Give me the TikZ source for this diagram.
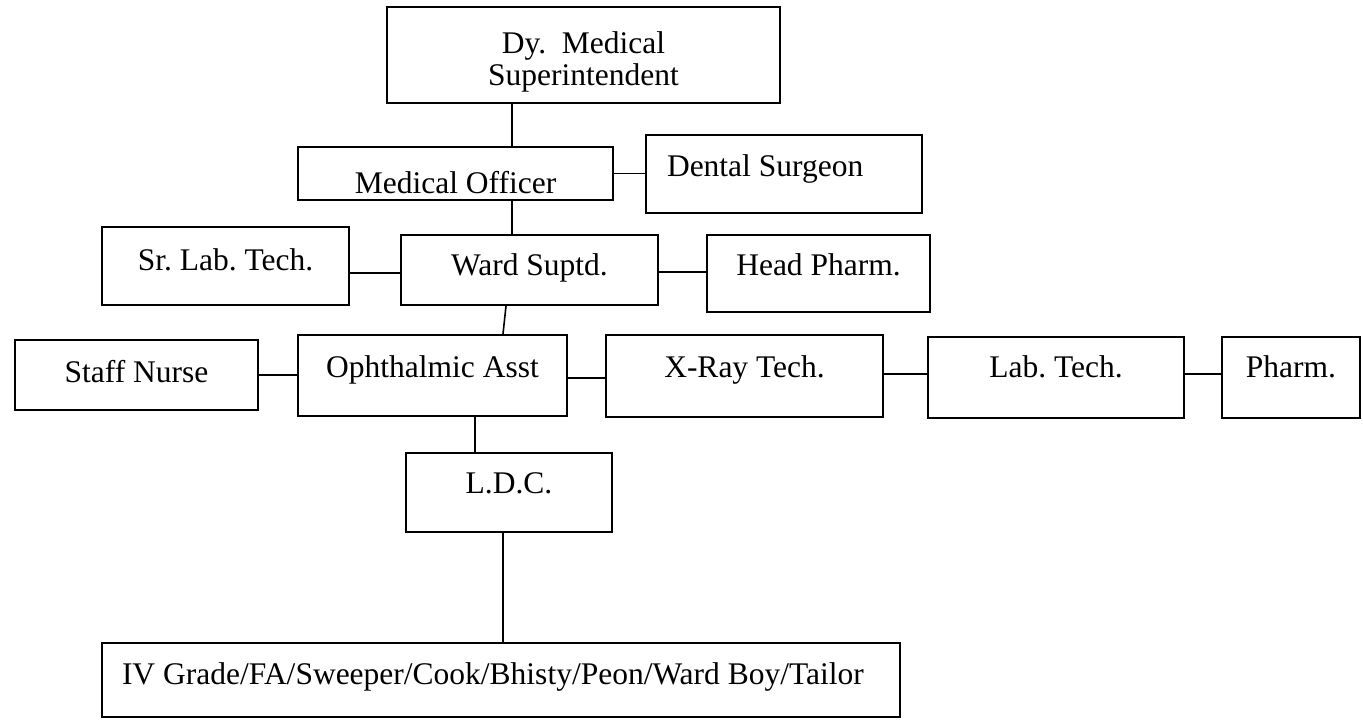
\documentclass[tikz,border=0pt]{standalone}
\usepackage{fontspec}
\setmainfont{Liberation Serif}
\begin{document}
\begin{tikzpicture}[x=1pt,y=-1pt,
    every node/.style={font=\fontsize{31.5pt}{32pt}\selectfont\frenchspacing},
    post/.style={draw,line width=2pt,inner sep=0pt},
    link/.style={line width=1.6pt}]
  \useasboundingbox (0,0) rectangle (1363,720);
  \node[post,minimum width=393pt,text height=78pt,text depth=18pt,align=center] (dms) at (583.5,55) {Dy.\ \ Medical\\Superintendent};
  \node[post,minimum width=315pt,text height=46pt,text depth=7pt] (mo) at (455.5,173.5) {Medical Officer};
  \node[post,inner xsep=21pt,text width=234pt,align=flush left,text height=41pt,text depth=37pt] (ds) at (784,174) {Dental Surgeon};
  \node[post,minimum width=247pt,text height=43pt,text depth=35pt] (slt) at (225.5,266) {Sr. Lab. Tech.};
  \node[post,minimum width=257pt,text height=40pt,text depth=30pt] (ws) at (529.5,270) {Ward Suptd.};
  \node[post,minimum width=223pt,text height=40pt,text depth=37pt] (hp) at (818.5,273.5) {Head Pharm.};
  \node[post,minimum width=243pt,text height=42pt,text depth=28pt] (sn) at (136.5,375) {Staff Nurse};
  \node[post,minimum width=269pt,text height=42pt,text depth=39pt] (oa) at (432.5,375.5) {Ophthalmic Asst};
  \node[post,minimum width=277pt,text height=42pt,text depth=40pt] (xr) at (744.5,376) {X-Ray Tech.};
  \node[post,minimum width=256pt,text height=40pt,text depth=41pt] (lt) at (1056,377.5) {Lab. Tech.};
  \node[post,minimum width=138pt,text height=40pt,text depth=41pt] (ph) at (1291,377.5) {Pharm.};
  \node[post,minimum width=206pt,text height=40pt,text depth=39pt] (ldc) at (509,492.5) {L.D.C.};
  \node[post,inner xsep=20pt,text width=758pt,align=flush left,text height=41pt,text depth=33pt] (iv) at (501,680) {IV Grade/FA/Sweeper/Cook/Bhisty/Peon/Ward Boy/Tailor};
  \draw[link] ([xshift=-71.5pt]dms.south) -- ([xshift=-71.5pt]dms.south |- mo.north);
  \draw[link] (mo.east) -- (mo.east -| ds.west);
  \draw[link] ([xshift=56.5pt]mo.south) -- ([xshift=56.5pt]mo.south |- ws.north);
  \draw[link] ([yshift=-7pt]slt.east) -- ([yshift=-7pt]slt.east -| ws.west);
  \draw[link] ([yshift=-2pt]ws.east) -- ([yshift=-2pt]ws.east -| hp.west);
  \draw[link] ([xshift=-23.5pt]ws.south) -- ([xshift=70.5pt]oa.north);
  \draw[link] (sn.east) -- (sn.east -| oa.west);
  \draw[link] ([yshift=-2.5pt]oa.east) -- ([yshift=-2.5pt]oa.east -| xr.west);
  \draw[link] ([yshift=2pt]xr.east) -- ([yshift=2pt]xr.east -| lt.west);
  \draw[link] ([yshift=3.5pt]lt.east) -- ([yshift=3.5pt]lt.east -| ph.west);
  \draw[link] ([xshift=42.5pt]oa.south) -- ([xshift=42.5pt]oa.south |- ldc.north);
  \draw[link] ([xshift=-6pt]ldc.south) -- ([xshift=-6pt]ldc.south |- iv.north);
\end{tikzpicture}
\end{document}
